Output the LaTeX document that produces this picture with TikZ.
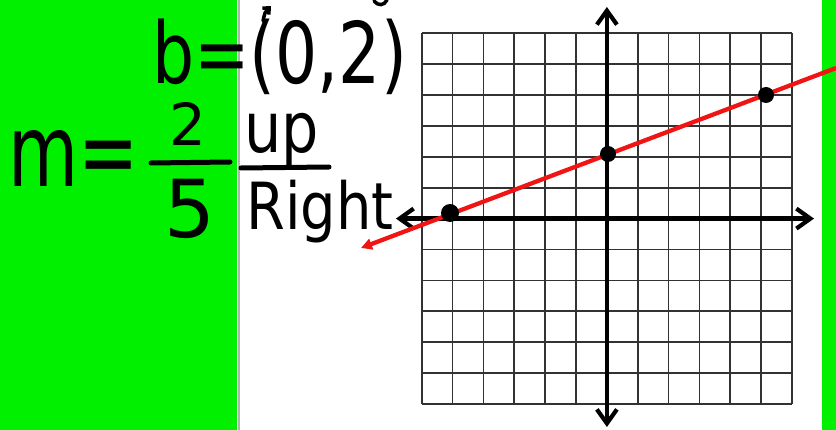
\documentclass[tikz,border=0pt]{standalone}
\usepackage{fontspec}
\setmainfont{DejaVu Sans}
\usetikzlibrary{arrows.meta}
\definecolor{scrgreen}{RGB}{0,240,0}
\definecolor{gridgray}{RGB}{50,50,50}
\definecolor{penred}{RGB}{240,20,20}
\tikzset{
  gridline/.style={draw=gridgray, line width=1.7pt},
  axisline/.style={draw=black, line width=4.2pt, {Straight Barb[length=14pt,width=20pt]}-{Straight Barb[length=14pt,width=20pt]}},
  redline/.style={draw=penred, line width=4.3pt, -{Triangle[length=11pt,width=11pt]}},
  dotmark/.style={circle, fill=black, inner sep=0pt, minimum size=15pt},
  ink/.style={draw=black, line width=5pt, line cap=round, line join=round},
  hand/.style={anchor=base west, inner sep=0pt, text=black}
}
\begin{document}
\begin{tikzpicture}[x=1pt,y=-1pt]
\useasboundingbox (0,0) rectangle (836,430);
\fill[white] (0,0) rectangle (836,430);
\fill[scrgreen] (0,0) rectangle (237,430);
\fill[scrgreen] (821.5,0) rectangle (836,430);
\draw[gray!60, line width=2.2pt] (238.6,0) -- (238.6,430);
% grid
\foreach \i in {0,...,12}{
  \draw[gridline] ({421.7+\i*30.86},33.3) -- ({421.7+\i*30.86},404);
  \draw[gridline] (421.7,{33.3+\i*30.89}) -- (792,{33.3+\i*30.89});
}
% axes
\coordinate (ytop) at (606.9,7);
\coordinate (ybot) at (606.9,427);
\coordinate (xleft) at (396,218.6);
\coordinate (xright) at (814,218.6);
\draw[axisline] (ybot) -- (ytop);
\draw[axisline] (xleft) -- (xright);
% red line
\coordinate (redR) at (836,68);
\coordinate (redL) at (361,248);
\draw[redline] (redR) -- (redL);
% points
\node[dotmark, minimum width=18pt, minimum height=15pt] (pA) at (450,213) {};
\node[dotmark, minimum size=16pt] (pB) at (608,154) {};
\node[dotmark, minimum size=16pt] (pC) at (766,95) {};
% handwriting
\node[hand, font=\fontsize{85}{85}\selectfont] (bline) at (152,84) {\scalebox{0.78}[1]{b=(0,2)}};
\draw[ink, line width=3.5pt, -{Straight Barb[length=5pt,width=9pt]}] (263,21) .. controls (265,12) .. (271,6);
\node[hand, font=\fontsize{100}{100}\selectfont] (mline) at (8,187) {\scalebox{0.72}[1]{m=}};
\node[anchor=base, inner sep=0pt, font=\fontsize{58}{58}\selectfont] (num) at (188,146) {2};
\node[anchor=base, inner sep=0pt, font=\fontsize{80}{80}\selectfont] (den) at (190,238) {5};
\coordinate (fbL) at (151,163);
\coordinate (fbR) at (230,162);
\draw[ink] (fbL) -- (fbR);
\node[hand, font=\fontsize{70}{70}\selectfont] (up) at (244,153) {\scalebox{0.84}[1]{up}};
\coordinate (ubL) at (241,168);
\coordinate (ubR) at (329,167);
\draw[ink] (ubL) -- (ubR);
\node[hand, font=\fontsize{65}{65}\selectfont] (right) at (246,230) {\scalebox{0.86}[1]{Right}};
\draw[ink, line width=3.5pt] (374,1) .. controls (378,6) and (384,6) .. (387,0);
\end{tikzpicture}
\end{document}
